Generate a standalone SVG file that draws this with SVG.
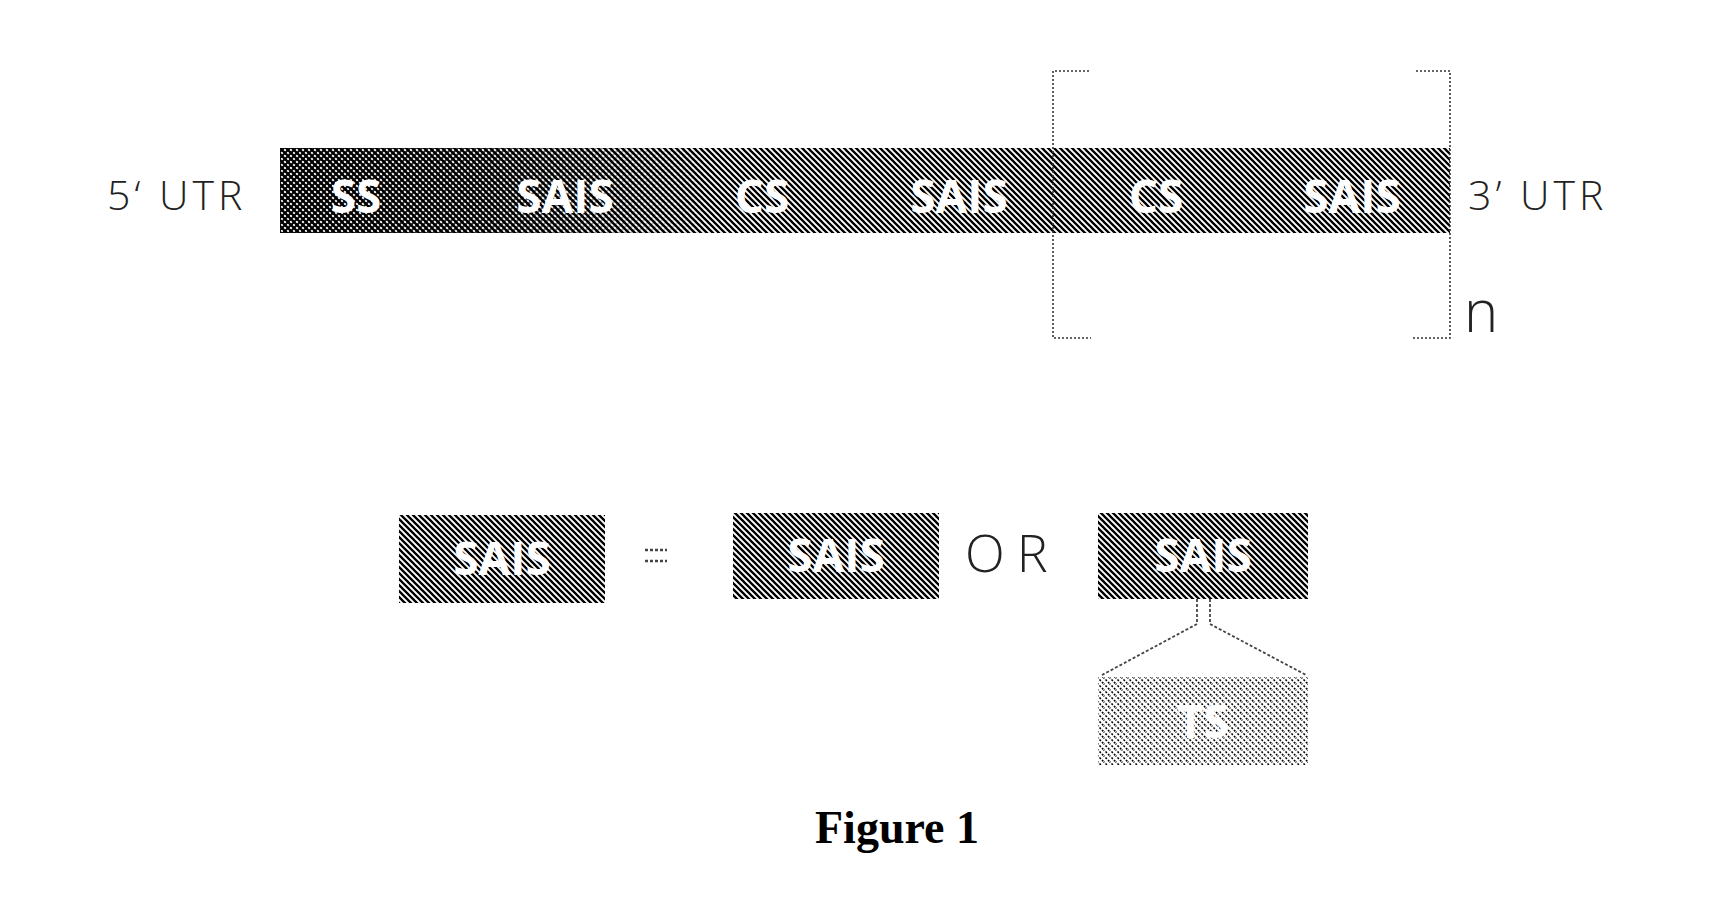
<svg xmlns="http://www.w3.org/2000/svg" width="1734" height="902" viewBox="0 0 1734 902">
<style>
.lbl{font-family:"Open Sans","Liberation Sans",sans-serif;font-weight:300;font-size:41px;fill:#222;letter-spacing:4px;}
.seg{font-family:"Open Sans","Liberation Sans",sans-serif;font-weight:700;font-size:46px;fill:#fff;text-anchor:middle;}
.brk{fill:none;stroke:#333;stroke-width:1.6;stroke-dasharray:2 2;}
.con{fill:none;stroke:#444;stroke-width:1.8;stroke-dasharray:3 2;}
.cap{font-family:"Liberation Serif","Times New Roman",serif;font-weight:bold;font-size:46px;fill:#000;}
</style>
<defs>
<pattern id="hatch" patternUnits="userSpaceOnUse" width="6" height="6">
<rect width="6" height="6" fill="#fff"/>
<path d="M-1,-1 L7,7 M-1,5 L1,7 M5,-1 L7,1" stroke="#000" stroke-width="2.3"/>
</pattern>
<pattern id="hatch2" patternUnits="userSpaceOnUse" width="6" height="6">
<path d="M7,-1 L-1,7 M7,5 L5,7 M1,-1 L-1,1" stroke="#000" stroke-width="2"/>
</pattern>
<pattern id="light" patternUnits="userSpaceOnUse" width="6" height="6">
<rect width="6" height="6" fill="#fff"/>
<path d="M-1,-1 L7,7 M-1,5 L1,7 M5,-1 L7,1" stroke="#000" stroke-width="1.5" stroke-dasharray="2 1.5"/>
</pattern>
<linearGradient id="fade" gradientUnits="userSpaceOnUse" x1="280" y1="0" x2="720" y2="0">
<stop offset="0" stop-color="#fff" stop-opacity="1"/>
<stop offset="0.45" stop-color="#fff" stop-opacity="0.8"/>
<stop offset="1" stop-color="#fff" stop-opacity="0"/>
</linearGradient>
<mask id="leftMask">
<rect x="280" y="148" width="1170" height="85" fill="url(#fade)"/>
</mask>
</defs>

<g id="utr5"><text class="lbl" x="107" y="210">5‘ UTR</text></g>

<g id="bar">
<rect x="280" y="148" width="1170" height="85" fill="url(#hatch)"/>
<rect x="280" y="148" width="1170" height="85" fill="url(#hatch2)" mask="url(#leftMask)"/>
<text class="seg" x="356" y="213">SS</text>
<text class="seg" x="565" y="213">SAIS</text>
<text class="seg" x="762" y="213">CS</text>
<text class="seg" x="959" y="213">SAIS</text>
<text class="seg" x="1156" y="213">CS</text>
<text class="seg" x="1352" y="213">SAIS</text>
</g>

<g id="utr3"><text class="lbl" x="1468" y="210">3’ UTR</text></g>

<g id="bracket">
<path class="brk" d="M1089,71 L1053,71 L1053,338 L1091,338"/>
<path class="brk" d="M1416,71 L1450,71 L1450,338 L1413,338"/>
<text class="lbl" x="1464" y="332" style="font-size:58px;letter-spacing:0">n</text>
</g>

<g id="sais-a">
<rect x="399" y="515" width="206" height="88" fill="url(#hatch)"/>
<text class="seg" x="502" y="575">SAIS</text>
</g>
<g id="equals">
<path class="con" d="M645,550 L667,550 M645,561 L667,561" style="stroke-width:2.4"/>
</g>
<g id="sais-b">
<rect x="733" y="513" width="206" height="86" fill="url(#hatch)"/>
<text class="seg" x="836" y="572">SAIS</text>
</g>
<g id="or"><text class="lbl" x="965" y="572" style="font-size:52px;letter-spacing:12px">OR</text></g>
<g id="sais-c">
<rect x="1098" y="513" width="210" height="86" fill="url(#hatch)"/>
<text class="seg" x="1203" y="572">SAIS</text>
</g>
<g id="ts">
<rect x="1098" y="677" width="210" height="88" fill="url(#light)"/>
<text class="seg" x="1203" y="738">TS</text>
</g>

<g id="connectors">
<path class="con" d="M1197,599 L1197,624 L1102,675"/>
<path class="con" d="M1210,599 L1210,624 L1306,675"/>
</g>

<g id="caption"><text class="cap" x="815" y="843">Figure 1</text></g>
</svg>
